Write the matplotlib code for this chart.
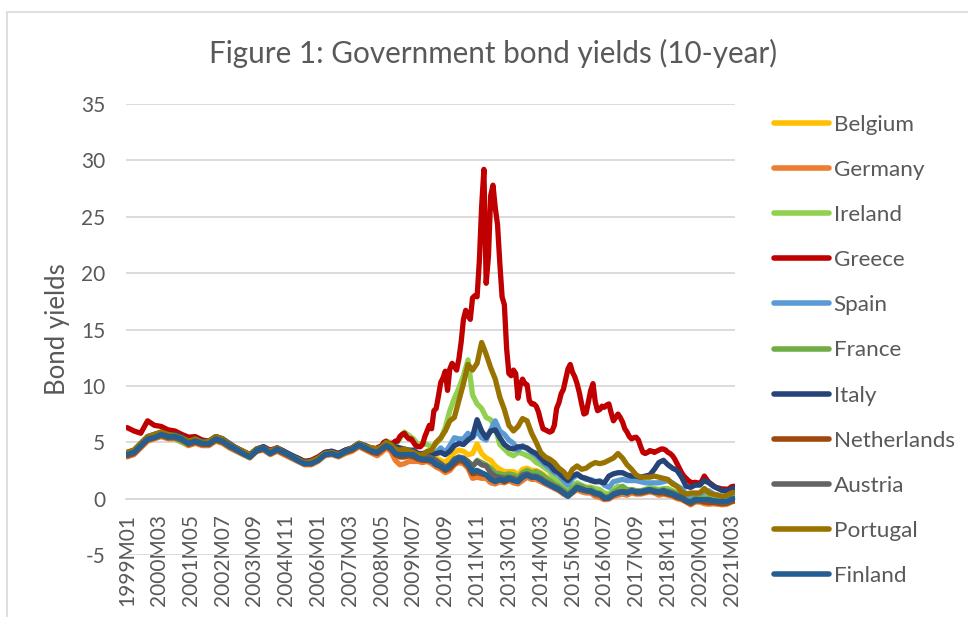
import matplotlib
matplotlib.use("Agg")
import matplotlib.pyplot as plt
from matplotlib.patches import Rectangle
from matplotlib.lines import Line2D

plt.rcParams['font.family'] = ['Lato', 'DejaVu Sans']

# ---------------- data ----------------
n_months = 268  # 1999M01 .. 2021M04
month_labels = [f"{1999 + i // 12}M{i % 12 + 1:02d}" for i in range(n_months)]
# sampled months: quarterly to 2007, bi-monthly from 2008M01, plus last month
sample_months = list(range(0, 108, 3)) + list(range(108, 267, 2)) + [267]
greece_months = list(range(0, 108, 3)) + list(range(108, 268))

belgium = [4.0, 4.2, 4.8, 5.4, 5.6, 5.8, 5.6, 5.6, 5.4, 5.0, 5.2, 5.0, 5.0, 5.4, 5.2, 4.8, 4.4, 4.1,
           3.8, 4.4, 4.5, 4.1, 4.4, 4.1, 3.8, 3.5, 3.2, 3.2, 3.5, 4.0, 4.0, 3.9, 4.2, 4.4, 4.8, 4.6,
           4.4, 4.3, 4.5, 4.9, 4.8, 4.4,
           4.3, 4.2, 4.1, 3.9, 3.7, 3.7,
           3.8, 3.7, 3.6, 3.4, 3.2, 3.6,
           4.1, 4.3, 4.2, 3.9, 4.0, 4.85,
           4.0, 3.6, 3.4, 2.9, 2.6, 2.4,
           2.4, 2.4, 2.1, 2.6, 2.7, 2.5,
           2.5, 2.3, 2.0, 1.7, 1.3, 1.1,
           0.8, 0.5, 0.8, 1.2, 1.1, 1.0,
           1.0, 0.6, 0.6, 0.3, 0.2, 0.6,
           0.8, 0.9, 0.7, 0.8, 0.7, 0.6,
           0.7, 0.9, 0.8, 0.7, 0.8, 0.8,
           0.7, 0.5, 0.4, 0.0, -0.2, 0.1,
           0.1, 0.2, 0.0, -0.1, -0.2, -0.3,
           -0.3, -0.05, 0.05]

germany = [3.7, 3.9, 4.5, 5.1, 5.3, 5.5, 5.3, 5.3, 5.0, 4.7, 4.9, 4.7, 4.7, 5.1, 4.9, 4.5, 4.2, 3.9,
           3.6, 4.2, 4.3, 3.9, 4.2, 3.9, 3.6, 3.3, 3.0, 3.0, 3.3, 3.8, 3.9, 3.7, 4.0, 4.2, 4.6, 4.3,
           4.0, 3.8, 4.1, 4.5, 4.2, 3.4,
           3.0, 3.1, 3.3, 3.3, 3.3, 3.2,
           3.3, 3.1, 2.8, 2.6, 2.3, 2.5,
           3.0, 3.2, 3.1, 2.7, 1.8, 1.9,
           1.8, 1.8, 1.4, 1.3, 1.5, 1.4,
           1.6, 1.4, 1.3, 1.6, 1.9, 1.7,
           1.7, 1.5, 1.3, 1.1, 0.9, 0.7,
           0.4, 0.2, 0.5, 0.8, 0.6, 0.5,
           0.5, 0.2, 0.1, -0.1, -0.05, 0.2,
           0.3, 0.4, 0.3, 0.5, 0.4, 0.4,
           0.5, 0.6, 0.5, 0.3, 0.4, 0.3,
           0.2, 0.0, -0.1, -0.3, -0.55, -0.3,
           -0.3, -0.45, -0.5, -0.45, -0.5, -0.55,
           -0.5, -0.3, -0.25]

ireland = [3.9, 4.1, 4.8, 5.3, 5.5, 5.6, 5.4, 5.4, 5.0, 4.8, 5.1, 4.8, 4.9, 5.3, 5.0, 4.6, 4.3, 4.0,
           3.7, 4.3, 4.4, 4.0, 4.4, 4.1, 3.7, 3.4, 3.1, 3.2, 3.5, 3.9, 4.0, 3.8, 4.1, 4.3, 4.8, 4.5,
           4.3, 4.3, 4.6, 5.0, 5.0, 4.8,
           5.3, 5.9, 5.6, 5.3, 4.8, 4.9,
           4.8, 4.6, 4.9, 5.3, 6.3, 7.8,
           8.9, 9.8, 10.9, 12.3, 9.2, 8.4,
           8.0, 7.2, 7.0, 6.3, 4.8, 4.4,
           4.0, 3.8, 4.1, 4.0, 3.8, 3.6,
           3.2, 3.0, 2.7, 2.4, 1.8, 1.6,
           1.2, 0.8, 1.2, 1.4, 1.2, 1.0,
           1.0, 0.9, 0.8, 0.5, 0.4, 0.8,
           1.1, 1.0, 0.8, 0.8, 0.6, 0.6,
           0.8, 1.0, 0.9, 0.8, 0.9, 0.9,
           0.7, 0.5, 0.4, -0.05, -0.1, 0.05,
           0.1, 0.2, 0.1, -0.05, -0.15, -0.25,
           -0.2, 0.1, 0.15]

greece = [6.3, 6.0, 5.8, 6.9, 6.5, 6.4, 6.1, 6.0, 5.7, 5.45, 5.5, 5.2, 5.1, 5.5, 5.3, 4.8, 4.5, 4.2,
          3.9, 4.4, 4.6, 4.3, 4.5, 4.2, 3.8, 3.6, 3.3, 3.4, 3.7, 4.1, 4.2, 4.0, 4.3, 4.5, 4.9, 4.6,
          4.5, 4.4, 4.5, 4.6, 4.7, 5.0, 5.1, 4.9, 4.8, 4.9, 5.1, 5.1,
          5.5, 5.7, 5.8, 5.5, 5.3, 5.3, 5.0, 4.7, 4.6, 4.6, 4.8, 5.5,
          6.0, 6.5, 6.2, 7.8, 8.0, 9.1, 10.3, 10.7, 11.3, 9.6, 11.5, 12.0,
          11.7, 11.4, 12.4, 13.9, 15.9, 16.7, 16.2, 15.9, 17.8, 18.0, 17.9, 21.1,
          25.9, 29.2, 19.1, 21.5, 26.9, 27.8, 25.8, 24.3, 20.9, 17.9, 17.2, 13.3,
          11.1, 10.9, 11.4, 11.1, 8.9, 10.1, 10.6, 10.2, 10.1, 8.7, 8.4, 8.4,
          8.2, 7.7, 6.9, 6.2, 6.1, 6.0, 5.9, 6.0, 6.5, 8.0, 8.5, 9.3,
          9.7, 10.6, 11.5, 11.9, 11.2, 10.8, 10.2, 9.4, 8.4, 7.5, 7.6, 8.6,
          9.6, 10.2, 8.6, 7.8, 7.9, 8.2, 8.1, 8.3, 8.4, 7.6, 6.9, 7.2,
          7.5, 7.2, 6.8, 6.2, 5.9, 5.5, 5.3, 5.4, 5.45, 5.2, 4.6, 4.1,
          4.0, 4.1, 4.26, 4.2, 4.1, 4.2, 4.3, 4.4, 4.4, 4.3, 4.1, 4.0,
          3.8, 3.5, 3.1, 2.7, 2.3, 2.0, 1.8, 1.6, 1.45, 1.4, 1.45, 1.4,
          1.3, 1.6, 2.0, 1.7, 1.45, 1.3, 1.15, 1.0, 0.95, 0.9, 0.85, 0.86,
          0.8, 0.9, 1.06, 1.1]

spain = [4.0, 4.2, 4.8, 5.4, 5.6, 5.8, 5.5, 5.5, 5.3, 5.0, 5.2, 5.0, 5.0, 5.4, 5.1, 4.7, 4.3, 4.0,
         3.7, 4.3, 4.4, 4.0, 4.4, 4.1, 3.7, 3.4, 3.1, 3.2, 3.5, 3.9, 4.0, 3.8, 4.2, 4.4, 4.8, 4.5,
         4.4, 4.3, 4.5, 4.8, 4.7, 4.2,
         4.2, 4.2, 4.1, 4.0, 3.8, 3.8,
         4.0, 3.8, 4.1, 4.5, 4.1, 4.7,
         5.4, 5.3, 5.3, 5.8, 5.4, 6.0,
         5.4, 5.2, 6.1, 6.9, 6.0, 5.7,
         5.2, 4.9, 4.3, 4.7, 4.4, 4.1,
         3.8, 3.4, 3.0, 2.7, 2.3, 2.1,
         1.6, 1.2, 1.8, 2.1, 1.9, 1.7,
         1.7, 1.5, 1.6, 1.2, 1.0, 1.5,
         1.6, 1.7, 1.6, 1.6, 1.6, 1.5,
         1.4, 1.4, 1.4, 1.4, 1.5, 1.6,
         1.4, 1.1, 0.9, 0.4, 0.2, 0.4,
         0.4, 0.6, 0.7, 0.4, 0.3, 0.1,
         0.05, 0.35, 0.4]

france = [3.9, 4.1, 4.7, 5.3, 5.5, 5.6, 5.4, 5.4, 5.1, 4.9, 5.1, 4.8, 4.9, 5.3, 5.0, 4.6, 4.3, 4.0,
          3.8, 4.3, 4.4, 4.0, 4.4, 4.1, 3.7, 3.4, 3.2, 3.1, 3.4, 3.9, 4.0, 3.8, 4.1, 4.4, 4.7, 4.4,
          4.2, 4.1, 4.4, 4.8, 4.6, 4.1,
          3.7, 3.7, 3.8, 3.7, 3.6, 3.5,
          3.5, 3.5, 3.2, 3.1, 2.7, 3.0,
          3.5, 3.6, 3.5, 3.3, 2.8, 3.4,
          3.2, 3.0, 2.7, 2.3, 2.2, 2.1,
          2.2, 2.1, 1.9, 2.3, 2.5, 2.3,
          2.4, 2.2, 1.9, 1.6, 1.3, 1.1,
          0.8, 0.5, 0.9, 1.2, 1.1, 0.9,
          0.9, 0.6, 0.5, 0.2, 0.2, 0.6,
          0.8, 1.1, 0.8, 0.8, 0.7, 0.7,
          0.8, 0.8, 0.8, 0.7, 0.8, 0.7,
          0.6, 0.4, 0.3, -0.1, -0.2, 0.0,
          0.0, 0.05, 0.0, -0.1, -0.2, -0.3,
          -0.3, -0.05, 0.05]

italy = [4.1, 4.3, 4.9, 5.5, 5.7, 5.9, 5.7, 5.7, 5.5, 5.1, 5.3, 5.1, 5.1, 5.5, 5.3, 4.9, 4.5, 4.2,
         3.9, 4.4, 4.6, 4.2, 4.5, 4.2, 3.9, 3.6, 3.3, 3.3, 3.6, 4.1, 4.2, 4.0, 4.3, 4.5, 4.9, 4.7,
         4.4, 4.4, 4.6, 5.0, 4.8, 4.6,
         4.5, 4.4, 4.3, 4.3, 4.0, 4.0,
         4.1, 3.9, 4.0, 4.1, 3.9, 4.2,
         4.7, 4.9, 4.8, 5.2, 5.5, 7.0,
         6.0, 5.4, 6.0, 6.1, 5.4, 4.8,
         4.5, 4.4, 4.6, 4.6, 4.5, 4.2,
         4.0, 3.6, 3.2, 3.0, 2.5, 2.3,
         1.9, 1.6, 2.0, 2.2, 1.9, 1.8,
         1.6, 1.5, 1.5, 1.4, 2.0, 2.2,
         2.3, 2.3, 2.1, 2.0, 2.0, 1.9,
         2.0, 2.1, 2.6, 3.2, 3.4, 3.0,
         2.7, 2.5, 1.9, 1.1, 1.0, 1.2,
         1.2, 1.6, 1.4, 1.1, 0.9, 0.7,
         0.7, 0.85, 0.95]

netherlands = [3.8, 4.0, 4.6, 5.2, 5.4, 5.6, 5.4, 5.4, 5.2, 4.8, 5.0, 4.8, 4.8, 5.2, 5.0, 4.6, 4.3, 4.0,
               3.7, 4.2, 4.4, 4.0, 4.3, 4.0, 3.7, 3.4, 3.1, 3.1, 3.4, 3.9, 4.0, 3.8, 4.1, 4.3, 4.7, 4.4,
               4.1, 4.0, 4.3, 4.6, 4.4, 3.9,
               3.7, 3.7, 3.8, 3.7, 3.5, 3.4,
               3.4, 3.3, 3.0, 2.8, 2.5, 2.7,
               3.1, 3.4, 3.3, 2.9, 2.2, 2.3,
               2.2, 2.1, 1.8, 1.6, 1.7, 1.5,
               1.7, 1.7, 1.6, 1.9, 2.1, 1.9,
               1.9, 1.7, 1.5, 1.3, 1.0, 0.8,
               0.5, 0.3, 0.6, 0.9, 0.8, 0.7,
               0.6, 0.4, 0.3, 0.0, 0.05, 0.3,
               0.5, 0.6, 0.5, 0.7, 0.5, 0.5,
               0.6, 0.7, 0.6, 0.5, 0.5, 0.4,
               0.3, 0.1, 0.0, -0.25, -0.45, -0.2,
               -0.2, -0.3, -0.35, -0.35, -0.4, -0.45,
               -0.4, -0.25, -0.2]

austria = [3.9, 4.1, 4.7, 5.3, 5.5, 5.7, 5.5, 5.5, 5.2, 4.9, 5.1, 4.9, 4.9, 5.3, 5.1, 4.7, 4.3, 4.0,
           3.7, 4.3, 4.4, 4.0, 4.4, 4.1, 3.7, 3.4, 3.1, 3.2, 3.5, 3.9, 4.0, 3.8, 4.2, 4.4, 4.7, 4.5,
           4.3, 4.2, 4.5, 4.7, 4.6, 4.3,
           4.2, 4.3, 4.3, 4.1, 3.8, 3.8,
           3.8, 3.6, 3.4, 3.1, 2.8, 3.0,
           3.5, 3.7, 3.6, 3.3, 2.9, 3.3,
           3.0, 2.9, 2.3, 2.0, 1.9, 1.8,
           1.9, 1.8, 1.6, 2.1, 2.2, 2.0,
           2.0, 1.8, 1.5, 1.3, 1.1, 0.9,
           0.6, 0.3, 0.6, 1.0, 0.9, 0.7,
           0.7, 0.4, 0.4, 0.1, 0.1, 0.4,
           0.6, 0.6, 0.6, 0.7, 0.6, 0.6,
           0.7, 0.8, 0.7, 0.6, 0.7, 0.6,
           0.5, 0.3, 0.2, -0.15, -0.35, -0.05,
           -0.1, -0.1, -0.1, -0.2, -0.25, -0.3,
           -0.3, -0.1, -0.05]

portugal = [4.1, 4.3, 4.9, 5.5, 5.7, 5.9, 5.7, 5.6, 5.4, 5.1, 5.3, 5.0, 5.1, 5.5, 5.3, 4.8, 4.5, 4.2,
            3.9, 4.4, 4.5, 4.2, 4.5, 4.1, 3.8, 3.5, 3.2, 3.3, 3.6, 4.0, 4.1, 3.9, 4.2, 4.5, 4.9, 4.6,
            4.5, 4.4, 4.6, 5.0, 4.8, 4.4,
            4.3, 4.4, 4.2, 4.1, 3.9, 3.9,
            4.2, 4.3, 5.0, 5.4, 6.0, 6.9,
            7.2, 8.7, 10.2, 11.9, 11.4, 12.0,
            13.85, 12.8, 11.6, 10.6, 9.0, 7.9,
            6.5, 6.0, 6.4, 7.1, 6.9, 5.8,
            5.0, 4.1, 3.7, 3.5, 3.2, 2.7,
            2.4, 1.9, 2.6, 2.9, 2.6, 2.7,
            3.0, 3.2, 3.1, 3.2, 3.4, 3.6,
            4.0, 3.6, 3.0, 2.6, 2.1, 1.9,
            1.9, 1.9, 2.0, 1.9, 1.8, 1.7,
            1.3, 1.1, 0.6, 0.4, 0.5, 0.5,
            0.5, 0.9, 0.5, 0.4, 0.3, 0.2,
            0.3, 0.5, 0.55]

finland = [3.9, 4.1, 4.7, 5.3, 5.4, 5.7, 5.5, 5.5, 5.3, 4.9, 5.1, 4.9, 4.85, 5.3, 5.1, 4.7, 4.4, 4.0,
           3.7, 4.3, 4.5, 4.0, 4.4, 4.1, 3.8, 3.4, 3.1, 3.1, 3.4, 3.9, 4.0, 3.8, 4.2, 4.4, 4.8, 4.5,
           4.2, 4.1, 4.4, 4.7, 4.5, 4.0,
           3.9, 3.9, 3.9, 3.9, 3.6, 3.5,
           3.5, 3.4, 3.0, 2.9, 2.6, 2.9,
           3.3, 3.6, 3.5, 3.0, 2.4, 2.5,
           2.3, 2.1, 1.7, 1.5, 1.7, 1.6,
           1.8, 1.6, 1.5, 1.9, 2.1, 1.9,
           1.9, 1.7, 1.4, 1.2, 1.0, 0.8,
           0.5, 0.2, 0.6, 1.0, 0.8, 0.7,
           0.7, 0.5, 0.4, 0.05, 0.05, 0.4,
           0.5, 0.6, 0.5, 0.7, 0.6, 0.6,
           0.7, 0.8, 0.6, 0.6, 0.7, 0.5,
           0.4, 0.2, 0.1, -0.2, -0.3, -0.1,
           -0.1, -0.1, -0.1, -0.2, -0.25, -0.25,
           -0.25, -0.05, 0.0]

countries = ["Belgium", "Germany", "Ireland", "Greece", "Spain", "France",
             "Italy", "Netherlands", "Austria", "Portugal", "Finland"]
series_values = [belgium, germany, ireland, greece, spain, france,
                 italy, netherlands, austria, portugal, finland]
colors = ["#FFC000", "#ED7D31", "#92D050", "#C00000", "#5B9BD5", "#70AD47",
          "#264478", "#9E480E", "#636363", "#997300", "#255E91"]

y_ticks = [-5, 0, 5, 10, 15, 20, 25, 30, 35]
x_tick_idx = list(range(0, n_months - 1, 14))

# ---------------- figure ----------------
W, H = 968, 617
fig = plt.figure(figsize=(W / 100, H / 100), dpi=100)
txt = "#595959"

# chart border
fig.patches.append(Rectangle((7 / W, -0.2), 1.2, 1.2 - 12 / H, transform=fig.transFigure,
                             fill=False, edgecolor="#D9D9D9", linewidth=1.2))

ax = fig.add_axes([126 / W, 1 - 555 / H, (735 - 126) / W, (555 - 104) / H])
ax.set_ylim(-5, 35)
ax.set_xlim(-0.5, n_months - 0.5)

for name, vals, c in zip(countries, series_values, colors):
    xs = greece_months if name == "Greece" else sample_months
    ax.plot(xs, vals, color=c, lw=3.8, solid_joinstyle="round", solid_capstyle="round",
            label=name, zorder=3)

ax.set_yticks(y_ticks)
ax.set_yticklabels([str(v) for v in y_ticks])
ax.yaxis.grid(True, color="#D9D9D9", lw=1.3)
ax.set_axisbelow(True)
for s in ["left", "right", "top"]:
    ax.spines[s].set_visible(False)
ax.spines["bottom"].set_position(("data", 0))
ax.spines["bottom"].set_color("#D9D9D9")
ax.spines["bottom"].set_linewidth(1.3)
ax.set_xticks(x_tick_idx)
ax.set_xticklabels([month_labels[i] for i in x_tick_idx], rotation=90, va="top", ha="center")
ax.tick_params(axis="x", length=0, pad=11, labelsize=15, labelcolor=txt)
ax.tick_params(axis="y", length=0, pad=15, labelsize=15, labelcolor=txt)

ax.set_ylabel("Bond yields", fontsize=18.5, color=txt, labelpad=8)

fig.text(493.5 / W, 1 - 53 / H, "Figure 1: Government bond yields (10-year)",
         ha="center", va="center", fontsize=21.3, color=txt)

handles = [Line2D([], [], color=c, lw=4, solid_capstyle="round") for c in colors]
leg = fig.legend(handles, countries, loc="upper left", bbox_to_anchor=(774 / W, 1 - 115 / H),
                 frameon=False, fontsize=16.2, handlelength=2.45, handletextpad=0.2,
                 labelspacing=1.115, borderpad=0, borderaxespad=0, labelcolor=txt)

fig.savefig("out.png", dpi=100)
